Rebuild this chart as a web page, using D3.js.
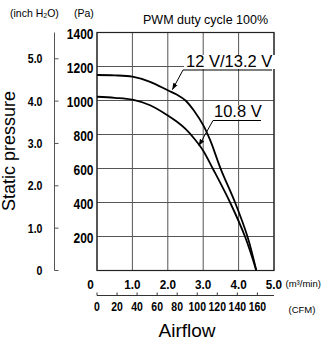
<!DOCTYPE html>
<html>
<head>
<meta charset="utf-8">
<script src="https://cdn.jsdelivr.net/npm/d3@7"></script>
<style>
  body { margin: 0; background: #fff; }
  svg { display: block; font-family: "Liberation Sans", Arial, sans-serif; }
  .num { font-weight: bold; }
</style>
</head>
<body>
<div id="chart"></div>
<script>
// airflow in m3/min, pressure in Pa
const flow12 = [0, 0.5, 1.0, 1.5, 2.0, 2.25, 2.5, 2.75, 3.0, 3.2, 3.5, 3.9, 4.25, 4.5];
const pres12 = [1150, 1148, 1140, 1110, 1060, 1035, 1000, 937, 855, 765, 595, 400, 200, 0];
const flow108 = [0, 0.5, 1.0, 1.5, 2.0, 2.25, 2.5, 2.75, 3.0, 3.27, 3.76, 4.18, 4.5];
const pres108 = [1022, 1016, 1005, 972, 912, 876, 833, 775, 705, 600, 400, 200, 0];

const paTicks = [0, 200, 400, 600, 800, 1000, 1200, 1400];
const inchTicks = [0, 1, 2, 3, 4, 5];
const m3Ticks = [0, 1, 2, 3, 4, 5];
const cfmTicks = [0, 20, 40, 60, 80, 100, 120, 140, 160];

const W = 336, H = 342;
const x0 = 97, x1 = 274, yTop = 32.5, yBot = 270.5;

const svg = d3.select("#chart").append("svg")
  .attr("width", W).attr("height", H);

const x = d3.scaleLinear().domain([0, 5]).range([x0, x1]);
const y = d3.scaleLinear().domain([0, 1400]).range([yBot, yTop]);
const yInch = d3.scaleLinear().domain([0, 1400 / 249.089]).range([yBot, yTop]);
const xCfm = d3.scaleLinear().domain([0, 5 * 35.3147]).range([x0, x1]);

// condensed bold numbers (squeezed horizontally)
function numLabels(cls, data, fx, fy, anchor, size, sx, fmt) {
  svg.selectAll("text." + cls).data(data).enter().append("text")
    .attr("class", "num " + cls)
    .attr("transform", d => `translate(${fx(d)},${fy(d)}) scale(${sx},1)`)
    .attr("text-anchor", anchor).attr("font-size", size)
    .text(fmt);
}

// grid
const grid = svg.append("g").attr("stroke", "#555").attr("stroke-width", 1);
grid.selectAll("line.v").data(m3Ticks).enter().append("line")
  .attr("x1", d => x(d)).attr("x2", d => x(d))
  .attr("y1", yTop).attr("y2", yBot);
grid.selectAll("line.h").data(paTicks).enter().append("line")
  .attr("x1", x0).attr("x2", x1)
  .attr("y1", d => y(d)).attr("y2", d => y(d));
svg.append("rect")
  .attr("x", x0).attr("y", yTop).attr("width", x1 - x0).attr("height", yBot - yTop)
  .attr("fill", "none").attr("stroke", "#222").attr("stroke-width", 1.2);

// Pa labels (0 is shared with the airflow axis)
numLabels("pa", paTicks.filter(d => d > 0), () => 93.5, d => y(d) + 6.8, "end", 15, 0.8, d => d);

// inch H2O axis
const gi = svg.append("g").attr("stroke", "#555").attr("stroke-width", 1);
gi.append("line").attr("x1", 54.5).attr("x2", 54.5).attr("y1", yTop).attr("y2", yBot);
gi.selectAll("line.t").data(inchTicks).enter().append("line")
  .attr("x1", 54.5).attr("x2", 58.5)
  .attr("y1", d => yInch(d)).attr("y2", d => yInch(d));
numLabels("inch", inchTicks, () => 42.5, d => yInch(d) + 4.4, "end", 12, 0.88,
  d => d === 0 ? "0" : d3.format(".1f")(d));

// m3/min labels
numLabels("m3", m3Ticks, d => d === 0 ? x(d) - 6.5 : x(d), () => 288.5, "middle", 13, 0.9,
  d => d === 0 ? "0" : d3.format(".1f")(d));
svg.append("text").attr("x", 285.5).attr("y", 287)
  .attr("font-size", 9.5).text("(m³/min)");

// CFM axis
const gc = svg.append("g").attr("stroke", "#333").attr("stroke-width", 1);
gc.append("line").attr("x1", x0).attr("x2", x1).attr("y1", 295.5).attr("y2", 295.5);
gc.selectAll("line.t").data(cfmTicks).enter().append("line")
  .attr("x1", d => xCfm(d)).attr("x2", d => xCfm(d))
  .attr("y1", 295.5).attr("y2", 292.5);
numLabels("cfm", cfmTicks, d => xCfm(d), () => 311, "middle", 12.5, 0.84, d => d);
svg.append("text").attr("x", 288.5).attr("y", 313)
  .attr("font-size", 9.5).text("(CFM)");

// titles
svg.append("text").attr("x", 187).attr("y", 337)
  .attr("text-anchor", "middle").attr("font-size", 19).text("Airflow");
svg.append("text")
  .attr("transform", "translate(14.5,151) rotate(-90)")
  .attr("text-anchor", "middle").attr("font-size", 18).text("Static pressure");
const unit = svg.append("text").attr("x", 10).attr("y", 17).attr("font-size", 10.5);
unit.append("tspan").text("(inch H");
unit.append("tspan").attr("font-size", 7).attr("dy", 1).text("2");
unit.append("tspan").attr("dy", -1).text("O)");
unit.append("tspan").attr("x", 74).text("(Pa)");
svg.append("text").attr("x", 143).attr("y", 24)
  .attr("font-size", 12.5).text("PWM duty cycle 100%");

// curves
const line = d3.line().x(d => x(d[0])).y(d => y(d[1])).curve(d3.curveCatmullRom.alpha(0.5));
[[flow12, pres12], [flow108, pres108]].forEach(([f, p]) => {
  svg.append("path")
    .datum(f.map((v, i) => [v, p[i]]))
    .attr("d", line)
    .attr("fill", "none").attr("stroke", "#000").attr("stroke-width", 1.8);
});

// callouts
svg.append("defs").append("marker")
  .attr("id", "arr").attr("viewBox", "0 0 10 10")
  .attr("refX", 9).attr("refY", 5)
  .attr("markerWidth", 7).attr("markerHeight", 7)
  .attr("orient", "auto")
  .append("path").attr("d", "M0,1.5L10,5L0,8.5Z").attr("fill", "#000");

function callout(label, tx, ty, ux1, ux2, uy, ax, ay) {
  svg.append("rect").attr("x", tx - 2).attr("y", uy - 15).attr("width", ux2 - ux1 + 2).attr("height", 14)
    .attr("fill", "#fff");
  svg.append("text").attr("x", tx).attr("y", ty).attr("font-size", 16.5).text(label);
  svg.append("line").attr("x1", ux1).attr("x2", ux2).attr("y1", uy).attr("y2", uy)
    .attr("stroke", "#000").attr("stroke-width", 1.2);
  svg.append("line").attr("x1", ux1).attr("y1", uy).attr("x2", ax).attr("y2", ay)
    .attr("stroke", "#000").attr("stroke-width", 1).attr("marker-end", "url(#arr)");
}
callout("12 V/13.2 V", 186, 66.5, 183, 272, 70, 172.5, 89.5);
callout("10.8 V", 214, 116.5, 213, 261, 120.5, 199, 145.5);
</script>
</body>
</html>
